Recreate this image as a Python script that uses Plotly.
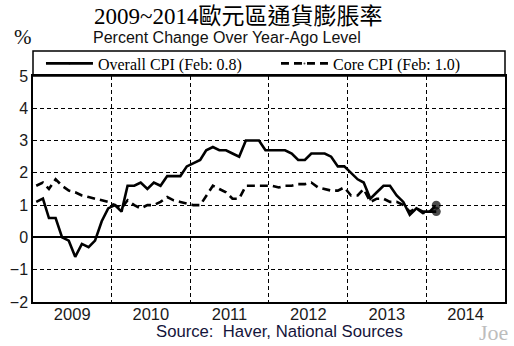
import pandas as pd
import plotly.graph_objects as go

# Monthly year-over-year HICP inflation, euro area, Jan 2009 - Feb 2014 (%)
overall_cpi = [
    1.1, 1.2, 0.6, 0.6, 0.0, -0.1, -0.6, -0.2, -0.3, -0.1, 0.5, 0.9,   # 2009
    1.0, 0.8, 1.6, 1.6, 1.7, 1.5, 1.7, 1.6, 1.9, 1.9, 1.9, 2.2,        # 2010
    2.3, 2.4, 2.7, 2.8, 2.7, 2.7, 2.6, 2.5, 3.0, 3.0, 3.0, 2.7,        # 2011
    2.7, 2.7, 2.7, 2.6, 2.4, 2.4, 2.6, 2.6, 2.6, 2.5, 2.2, 2.2,        # 2012
    2.0, 1.8, 1.7, 1.2, 1.4, 1.6, 1.6, 1.3, 1.1, 0.7, 0.9, 0.8,        # 2013
    0.8, 0.8,                                                          # 2014
]
core_cpi = [
    1.6, 1.7, 1.5, 1.8, 1.6, 1.45, 1.4, 1.3, 1.25, 1.2, 1.15, 1.1,     # 2009
    1.0, 0.9, 1.15, 1.0, 0.9, 1.0, 1.0, 1.1, 1.25, 1.15, 1.1, 1.05,    # 2010
    1.0, 1.0, 1.3, 1.6, 1.5, 1.4, 1.2, 1.2, 1.6, 1.6, 1.6, 1.6,        # 2011
    1.6, 1.55, 1.6, 1.6, 1.65, 1.65, 1.7, 1.55, 1.5, 1.45, 1.45, 1.55, # 2012
    1.3, 1.3, 1.5, 1.1, 1.2, 1.2, 1.1, 1.1, 1.0, 0.8, 0.9, 0.75,       # 2013
    0.8, 1.0,                                                          # 2014
]
year_labels = ["2009", "2010", "2011", "2012", "2013", "2014"]
y_ticks = [-2, -1, 0, 1, 2, 3, 4, 5]

months = pd.date_range("2009-01-01", periods=len(overall_cpi), freq="MS") + pd.Timedelta(days=15)
year_mid = [pd.Timestamp(f"{y}-07-02") for y in year_labels]
year_edges = [pd.Timestamp(f"{int(y) + 1}-01-01") for y in year_labels[:-1]]

W, H = 514, 346
L, R, T, B = 33, 7, 76, 44
PW, PH = W - L - R, H - T - B


def px_x(px):
    return (px - L) / PW


def px_y(py):
    return (H - B - py) / PH


SERIF = "Liberation Serif, Times New Roman, serif"
SANS = "Liberation Sans, Arial, sans-serif"


def end_marker(n):
    return [0] * (n - 1) + [9]


fig = go.Figure()
fig.add_trace(go.Scatter(
    x=months, y=overall_cpi, mode="lines+markers",
    name=f"Overall CPI (Feb: {overall_cpi[-1]:.1f})",
    line=dict(color="black", width=2.6),
    marker=dict(color="black", size=end_marker(len(overall_cpi)), line=dict(width=0)),
    legend="legend",
))
fig.add_trace(go.Scatter(
    x=months, y=core_cpi, mode="lines+markers",
    name=f"Core CPI (Feb: {core_cpi[-1]:.1f})",
    line=dict(color="black", width=2.6, dash="8px,5px"),
    marker=dict(color="black", size=end_marker(len(core_cpi)), line=dict(width=0)),
    legend="legend2",
))

legend_style = dict(
    orientation="h", xanchor="left", y=px_y(63.5), yanchor="middle",
    font=dict(family=SERIF, size=16, color="black"),
    bgcolor="rgba(0,0,0,0)", borderwidth=0, itemwidth=47,
)

fig.update_layout(
    width=W, height=H,
    margin=dict(l=L, r=R, t=T, b=B, pad=0),
    paper_bgcolor="white", plot_bgcolor="white",
    showlegend=True,
    legend=dict(x=px_x(41), **legend_style),
    legend2=dict(x=px_x(277), **legend_style),
    xaxis=dict(
        range=[pd.Timestamp("2009-01-01"), pd.Timestamp("2015-01-01")],
        tickmode="array", tickvals=year_mid, ticktext=year_labels,
        ticks="", showgrid=False, zeroline=False,
        showline=True, linecolor="black", linewidth=1.5, mirror=True,
        tickfont=dict(family=SANS, size=16.5, color="#1a1a1a"),
        ticklabelstandoff=-4,
        minor=dict(tickmode="array", tickvals=year_edges, showgrid=True,
                   gridcolor="black", gridwidth=1, griddash="4px,3px", ticks=""),
    ),
    yaxis=dict(
        range=[-2, 5], tickmode="array", tickvals=y_ticks,
        ticks="inside", ticklen=4, tickcolor="black",
        showgrid=True, gridcolor="black", gridwidth=1, griddash="4px,3px",
        zeroline=True, zerolinecolor="black", zerolinewidth=1.5,
        showline=True, linecolor="black", linewidth=1.5, mirror=True,
        tickfont=dict(family=SANS, size=16, color="#1a1a1a"),
    ),
)

# Box around the legend strip above the plotting area
fig.add_shape(type="rect", xref="paper", yref="paper",
              x0=0, x1=1, y0=1, y1=px_y(51),
              line=dict(color="black", width=1.5), fillcolor="rgba(0,0,0,0)")

fig.add_annotation(text="2009~2014歐元區通貨膨脹率", xref="paper", yref="paper",
                   x=px_x(92), y=px_y(17), xanchor="left", yanchor="middle",
                   showarrow=False,
                   font=dict(family="Liberation Serif, Noto Sans CJK TC", size=23, color="black"))
fig.add_annotation(text="Percent Change Over Year-Ago Level", xref="paper", yref="paper",
                   x=px_x(91), y=px_y(38), xanchor="left", yanchor="middle",
                   showarrow=False, font=dict(family=SANS, size=16, color="#111"))
fig.add_annotation(text="%", xref="paper", yref="paper",
                   x=px_x(23), y=px_y(37), xanchor="center", yanchor="middle",
                   showarrow=False, font=dict(family=SERIF, size=21, color="#111"))
fig.add_annotation(text="Source:  Haver, National Sources", xref="paper", yref="paper",
                   x=px_x(281), y=px_y(331), xanchor="center", yanchor="middle",
                   showarrow=False, font=dict(family=SANS, size=16.7, color="#14143a"))
fig.add_annotation(text="Joe", xref="paper", yref="paper",
                   x=px_x(495), y=px_y(332), xanchor="center", yanchor="middle",
                   showarrow=False, font=dict(family=SERIF, size=22, color="#bdbdbd"))

fig.write_html("out.html")
